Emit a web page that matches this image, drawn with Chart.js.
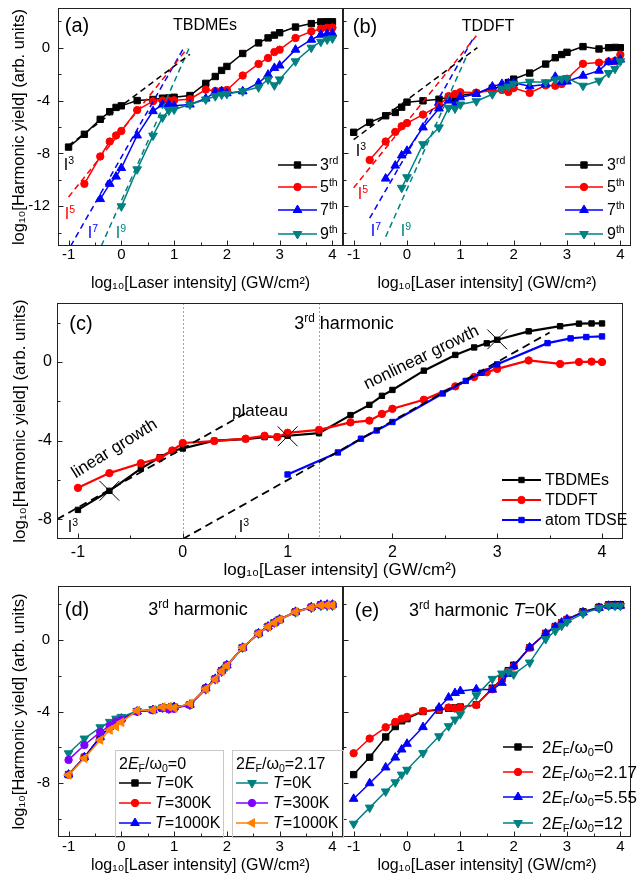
<!DOCTYPE html>
<html><head><meta charset="utf-8">
<script src="https://cdn.jsdelivr.net/npm/chart.js@4.4.1/dist/chart.umd.min.js"></script>
<style>
html,body{margin:0;padding:0;background:#fff}
body{position:relative;width:638px;height:878px;overflow:hidden;font-family:"Liberation Sans",Arial,sans-serif;color:#000}
canvas{position:absolute;left:0;top:0}
.t{position:absolute;white-space:nowrap;line-height:1;z-index:5}
.c{transform:translate(-50%,-50%)}
.l{transform:translateY(-50%)}
.sp{font-size:66%;position:relative;top:-0.6em}
.sb{font-size:66%;position:relative;top:0.3em}
.box{position:absolute;border:1px solid #c8c8c8;z-index:4;box-sizing:border-box}
</style></head><body>
<canvas id="ca" width="638" height="878"></canvas>
<canvas id="cb" width="638" height="878"></canvas>
<canvas id="cc" width="638" height="878"></canvas>
<canvas id="cd" width="638" height="878"></canvas>
<canvas id="ce" width="638" height="878"></canvas>

<!-- panel (a) -->
<div class="t c" style="left:77px;top:25px;font-size:20px">(a)</div>
<div class="t c" style="left:205px;top:25px;font-size:16px">TBDMEs</div>
<div class="t c" style="left:69px;top:165px;font-size:16px">I<span class="sp">3</span></div>
<div class="t c" style="left:70px;top:214px;font-size:16px;color:#ff0000">I<span class="sp">5</span></div>
<div class="t c" style="left:93px;top:233px;font-size:16px;color:#0000ff">I<span class="sp">7</span></div>
<div class="t c" style="left:121px;top:233px;font-size:16px;color:#008080">I<span class="sp">9</span></div>
<div class="t l" style="left:320px;top:165px;font-size:16px">3<span class="sp">rd</span></div>
<div class="t l" style="left:320px;top:187px;font-size:16px">5<span class="sp">th</span></div>
<div class="t l" style="left:320px;top:210px;font-size:16px">7<span class="sp">th</span></div>
<div class="t l" style="left:320px;top:234px;font-size:16px">9<span class="sp">th</span></div>

<!-- panel (b) -->
<div class="t c" style="left:365px;top:26px;font-size:20px">(b)</div>
<div class="t c" style="left:488px;top:26px;font-size:16px">TDDFT</div>
<div class="t c" style="left:361px;top:151px;font-size:16px">I<span class="sp">3</span></div>
<div class="t c" style="left:363px;top:194px;font-size:16px;color:#ff0000">I<span class="sp">5</span></div>
<div class="t c" style="left:376px;top:231px;font-size:16px;color:#0000ff">I<span class="sp">7</span></div>
<div class="t c" style="left:406px;top:231px;font-size:16px;color:#008080">I<span class="sp">9</span></div>
<div class="t l" style="left:607px;top:165px;font-size:16px">3<span class="sp">rd</span></div>
<div class="t l" style="left:607px;top:187px;font-size:16px">5<span class="sp">th</span></div>
<div class="t l" style="left:607px;top:210px;font-size:16px">7<span class="sp">th</span></div>
<div class="t l" style="left:607px;top:234px;font-size:16px">9<span class="sp">th</span></div>

<!-- panel (c) -->
<div class="t c" style="left:81px;top:323px;font-size:20px">(c)</div>
<div class="t c" style="left:344px;top:323px;font-size:18px">3<span class="sp">rd</span> harmonic</div>
<div class="t c" style="left:114px;top:448px;font-size:17px;transform:translate(-50%,-50%) rotate(-32deg)">linear growth</div>
<div class="t c" style="left:260px;top:410px;font-size:17px">plateau</div>
<div class="t c" style="left:421px;top:357px;font-size:17px;transform:translate(-50%,-50%) rotate(-26deg)">nonlinear growth</div>
<div class="t c" style="left:73px;top:527px;font-size:16px">I<span class="sp">3</span></div>
<div class="t c" style="left:244px;top:527px;font-size:16px">I<span class="sp">3</span></div>
<div class="t l" style="left:545px;top:480px;font-size:16px">TBDMEs</div>
<div class="t l" style="left:545px;top:500px;font-size:16px">TDDFT</div>
<div class="t l" style="left:545px;top:520px;font-size:16px">atom TDSE</div>

<!-- panel (d) -->
<div class="t c" style="left:77px;top:609px;font-size:20px">(d)</div>
<div class="t c" style="left:198px;top:609px;font-size:18px">3<span class="sp">rd</span> harmonic</div>
<div class="box" style="left:115px;top:750px;width:109px;height:88px"></div>
<div class="box" style="left:232px;top:750px;width:112px;height:88px"></div>
<div class="t l" style="left:119px;top:764px;font-size:16px">2<i>E</i><span class="sb">F</span>/ω<span class="sb">0</span>=0</div>
<div class="t l" style="left:155px;top:783px;font-size:16px"><i>T</i>=0K</div>
<div class="t l" style="left:155px;top:803px;font-size:16px"><i>T</i>=300K</div>
<div class="t l" style="left:155px;top:823px;font-size:16px"><i>T</i>=1000K</div>
<div class="t l" style="left:236px;top:764px;font-size:16px">2<i>E</i><span class="sb">F</span>/ω<span class="sb">0</span>=2.17</div>
<div class="t l" style="left:273px;top:783px;font-size:16px"><i>T</i>=0K</div>
<div class="t l" style="left:273px;top:803px;font-size:16px"><i>T</i>=300K</div>
<div class="t l" style="left:273px;top:823px;font-size:16px"><i>T</i>=1000K</div>

<!-- panel (e) -->
<div class="t c" style="left:367px;top:610px;font-size:20px">(e)</div>
<div class="t c" style="left:483px;top:610px;font-size:18px">3<span class="sp">rd</span> harmonic <i>T</i>=0K</div>
<div class="t l" style="left:542px;top:747px;font-size:17px">2<i>E</i><span class="sb">F</span>/ω<span class="sb">0</span>=0</div>
<div class="t l" style="left:542px;top:772px;font-size:17px">2<i>E</i><span class="sb">F</span>/ω<span class="sb">0</span>=2.17</div>
<div class="t l" style="left:542px;top:797px;font-size:17px">2<i>E</i><span class="sb">F</span>/ω<span class="sb">0</span>=5.55</div>
<div class="t l" style="left:542px;top:823px;font-size:17px">2<i>E</i><span class="sb">F</span>/ω<span class="sb">0</span>=12</div>

<script>
// ---------------- data ----------------
const logI = [-1,-0.7,-0.4,-0.22,-0.1,0,0.3,0.6,0.78,0.9,1,1.3,1.6,1.78,1.9,2,2.3,2.6,2.78,2.9,3,3.3,3.6,3.78,3.9,4];

// (a) TBDMEs
const tbdme3 = [-7.52,-6.55,-5.42,-4.84,-4.52,-4.4,-4.0,-3.92,-3.82,-3.8,-3.75,-3.62,-2.7,-2.18,-1.72,-1.42,-0.44,0.36,0.74,0.95,1.13,1.56,1.82,1.95,1.96,1.96];
const tbdme5 = [null,-10.3,-8.23,-7.1,-6.64,-6.3,-4.72,-4.05,-4.0,-4.0,-3.98,-3.9,-3.17,-3.28,-3.25,-3.2,-2.11,-1.23,-0.78,-0.33,-0.15,0.73,1.23,1.43,1.5,1.52];
const tbdme7 = [null,null,-11.45,-10.3,-9.75,-9.1,-6.64,-4.8,-4.3,-4.3,-4.4,-4.3,-3.85,-3.35,-3.3,-3.45,-3.3,-2.67,-2.04,-1.53,-1.35,-0.15,0.6,0.98,1.05,1.08];
const tbdme9 = [null,null,null,null,null,-12.0,-9.2,-6.65,-5.28,-4.75,-4.68,-4.3,-3.92,-3.67,-3.55,-3.5,-3.3,-3.0,-2.4,-2.85,-2.4,-1.03,0.0,0.45,0.62,0.7];

// (b) TDDFT
const tddft3 = [-6.4,-5.65,-5.15,-4.9,-4.5,-4.12,-4.02,-3.9,-3.75,-3.82,-3.6,-3.45,-3.07,-2.98,-2.64,-2.38,-1.92,-1.24,-0.76,-0.52,-0.35,0.08,-0.1,0.0,0.02,0.0];
const tddft5 = [null,-8.5,-7.1,-6.37,-5.94,-5.7,-5.06,-4.38,-3.67,-3.5,-3.37,-3.4,-3.25,-3.2,-3.35,-3.05,-3.42,-2.85,-2.88,-2.75,-2.35,-1.22,-1.13,-1.05,-1.0,-0.54];
const tddft7 = [null,null,-9.9,-8.92,-8.15,-7.8,-6.03,-4.6,-4.0,-4.3,-3.75,-3.5,-2.94,-2.74,-2.7,-2.66,-2.92,-2.78,-2.2,-2.6,-2.56,-2.12,-1.74,-1.08,-1.05,-0.9];
const tddft9 = [null,null,null,null,-10.6,-9.8,-7.3,-6.03,-4.55,-4.6,-4.3,-4.05,-3.52,-3.1,-2.95,-2.73,-2.58,-2.62,-2.42,-2.35,-2.3,-2.88,-2.5,-1.92,-1.6,-1.03];

// power-law guide lines (endpoints)
const guideA_I3 = [[-1,-7.4],[1.3,-0.5]];
const guideA_I5 = [[-1,-11.3],[1.25,-0.05]];
const guideA_I7 = [[-0.96,-15],[1.2,0.1]];
const guideA_I9 = [[-0.38,-15],[1.28,-0.08]];
const guideB_I3 = [[-1,-6.95],[1.32,0.01]];
const guideB_I5 = [[-1,-10.6],[1.3,0.9]];
const guideB_I7 = [[-0.7,-12.9],[1.26,0.82]];
const guideB_I9 = [[-0.4,-14.3],[1.12,-0.62]];

// (c) atom TDSE and markers
const atomLogI = [1,1.48,1.7,1.85,2,2.48,2.7,2.85,3,3.48,3.7,3.85,4];
const atomTDSE = [-5.72,-4.6,-3.9,-3.48,-3.05,-1.6,-0.96,-0.55,-0.12,0.96,1.2,1.27,1.3];
const crossLogI = [-0.7,1.0,3.0];
const crossYield = [-6.55,-3.78,1.15];
const guideC_1 = [[-1.2,-8.0],[0.6,-2.6]];
const guideC_2 = [[0,-9],[3.5,1.5]];
const regionLines = [0,1.3];

// (d) temperature / Fermi energy study (3rd harmonic)
const ef0_T0K = tbdme3, ef0_T300K = tbdme3, ef0_T1000K = tbdme3;
const ef217_T0K = [-6.33,-5.51,-4.88,-4.58,-4.4,-4.3,-3.97,-3.87,-3.78,-3.83,-3.78,-3.63,-2.76,-2.2,-1.78,-1.49,-0.43,0.35,0.72,0.96,1.14,1.53,1.78,1.9,1.9,1.9];
const ef217_T300K = [-6.7,-5.87,-5.15,-4.8,-4.6,-4.47,-4.0,-3.92,-3.8,-3.88,-3.85,-3.62,-2.74,-2.2,-1.75,-1.45,-0.43,0.35,0.73,0.95,1.13,1.55,1.8,1.92,1.93,1.93];
const ef217_T1000K = [-7.54,-6.61,-5.59,-5.03,-4.84,-4.6,-3.95,-3.91,-3.75,-3.73,-3.79,-3.56,-2.74,-2.2,-1.75,-1.45,-0.43,0.35,0.73,0.95,1.13,1.55,1.8,1.92,1.93,1.93];
// (e) T=0K, Fermi energy
const ef555_T0K = [-8.87,-8.0,-7.12,-6.57,-6.12,-5.8,-4.87,-3.78,-3.22,-2.97,-2.86,-2.76,-2.78,-2.4,-1.9,-1.48,-0.43,0.35,0.72,0.96,1.14,1.53,1.78,1.9,1.9,1.9];
const ef12_T0K = [-10.26,-9.36,-8.46,-7.95,-7.52,-7.25,-6.32,-5.38,-4.82,-4.45,-4.15,-3.1,-2.18,-1.88,-1.77,-1.93,-1.27,0.04,0.5,0.78,1.0,1.46,1.76,1.9,1.9,1.9];

// ticks
const xTicks = [-1,0,1,2,3,4];
const xMinor = [-0.5,0.5,1.5,2.5,3.5];
const yTicksAB = [0,-4,-8,-12], yMinorAB = [2,-2,-6,-10,-14];
const yTicksC = [0,-4,-8], yMinorC = [2,-2,-6];
const yTicksDE = [0,-4,-8], yMinorDE = [2,-2,-6,-10];

const xTitle = 'log\u2081\u2080[Laser intensity] (GW/cm\u00B2)';
const yTitle = 'log\u2081\u2080[Harmonic yield] (arb. units)';

const BLACK='#000000', RED='#ff0000', BLUE='#0000ff', TEAL='#008080', PURPLE='#8000ff', ORANGE='#ff8000';

// ---------------- helpers ----------------
Chart.defaults.font.family = '"Liberation Sans", Arial, sans-serif';
Chart.defaults.color = '#000';

const framePlugin = {
  id: 'frame',
  beforeDatasetsDraw(chart, args, o) {
    const {ctx, chartArea: a, scales: {x}} = chart;
    (o.vlines || []).forEach(v => {
      const px = Math.round(x.getPixelForValue(v)) + 0.5;
      ctx.save(); ctx.strokeStyle = '#a0a0a0'; ctx.lineWidth = 1; ctx.setLineDash([2, 2]);
      ctx.beginPath(); ctx.moveTo(px, a.top); ctx.lineTo(px, a.bottom); ctx.stroke(); ctx.restore();
    });
  },
  afterDraw(chart, args, o) {
    const {ctx, chartArea: a, scales: {x, y}} = chart;
    ctx.save();
    ctx.setLineDash([]);
    ctx.strokeStyle = '#222'; ctx.lineWidth = 1;
    const L = Math.round(a.left) + 0.5, R = Math.round(a.right) - 0.5, T = Math.round(a.top) + 0.5, B = Math.round(a.bottom) - 0.5;
    ctx.strokeRect(L, T, R - L, B - T);
    ctx.beginPath();
    const xt = (vals, len) => vals.forEach(v => { const p = Math.round(x.getPixelForValue(v)) + 0.5; ctx.moveTo(p, B); ctx.lineTo(p, B - len); });
    const yt = (vals, len) => vals.forEach(v => { const p = Math.round(y.getPixelForValue(v)) + 0.5; ctx.moveTo(L, p); ctx.lineTo(L + len, p); });
    xt(o.xMajor || [], 5); xt(o.xMinor || [], 3); yt(o.yMajor || [], 5); yt(o.yMinor || [], 3);
    ctx.stroke();
    (o.keys || []).forEach(k => {
      const ds = chart.data.datasets[k.ds];
      ctx.setLineDash([]);
      ctx.strokeStyle = ds.borderColor; ctx.lineWidth = ds.borderWidth;
      ctx.beginPath(); ctx.moveTo(k.x1, k.y); ctx.lineTo(k.x2, k.y); ctx.stroke();
      ctx.fillStyle = ds.pointBackgroundColor; ctx.strokeStyle = ds.pointBorderColor; ctx.lineWidth = 1;
      if (Chart.helpers && Chart.helpers.drawPoint) {
        Chart.helpers.drawPoint(ctx, {pointStyle: ds.pointStyle, radius: ds.pointRadius, rotation: ds.pointRotation || 0, borderWidth: 1}, (k.x1 + k.x2) / 2, k.y);
      }
    });
    ctx.restore();
  }
};
Chart.register(framePlugin);

function ser(xs, ys, color, style, extra) {
  const data = [];
  xs.forEach((xv, i) => { if (ys[i] !== null && ys[i] !== undefined) data.push({x: xv, y: ys[i]}); });
  return Object.assign({data, showLine: true, borderColor: color, backgroundColor: color, borderWidth: 1.5,
    pointStyle: style, pointRadius: 4, pointBackgroundColor: color, pointBorderColor: color, pointBorderWidth: 1,
    pointRotation: 0, order: 5}, extra || {});
}
function guide(pts, color, extra) {
  return Object.assign({data: pts.map(p => ({x: p[0], y: p[1]})), showLine: true, borderColor: color, backgroundColor: color,
    borderWidth: 1.5, borderDash: [6, 4], pointRadius: 0, order: 0}, extra || {});
}
function xScale(o) {
  return {type: 'linear', min: -1.2, max: 4.2,
    grid: {display: false, drawTicks: false}, border: {display: false},
    ticks: {font: {size: o.tickSize}, color: '#000', padding: o.tickPad, maxRotation: 0, autoSkip: false},
    title: {display: true, text: xTitle, color: '#000', font: {size: o.titleSize}, padding: {top: 0, bottom: o.titlePad}},
    afterBuildTicks: s => { s.ticks = xTicks.map(v => ({value: v})); },
    afterFit: s => { s.height = o.h; s.paddingLeft = 0; s.paddingRight = 0; s.paddingTop = 0; s.paddingBottom = 0; }
  };
}
function yScale(o) {
  return {type: 'linear', min: o.min, max: o.max,
    grid: {display: false, drawTicks: false}, border: {display: false},
    ticks: {display: o.labels, font: {size: o.tickSize}, color: '#000', padding: o.tickPad},
    title: {display: o.labels, text: yTitle, color: '#000', font: {size: o.titleSize}, padding: {top: o.titlePad, bottom: 0}},
    afterBuildTicks: s => { s.ticks = o.ticks.map(v => ({value: v})); },
    afterFit: s => { s.width = o.w; s.paddingLeft = 0; s.paddingRight = 0; s.paddingTop = 0; s.paddingBottom = 0; }
  };
}
function make(id, datasets, pad, xs, ys, frame) {
  return new Chart(document.getElementById(id), {
    type: 'scatter',
    data: {datasets},
    options: {responsive: false, animation: false, devicePixelRatio: 1, events: [],
      layout: {padding: pad},
      plugins: {legend: {display: false}, tooltip: {enabled: false}, frame},
      scales: {x: xs, y: ys}}
  });
}

// ---------------- (a) ----------------
make('ca', [
  ser(logI, tbdme3, BLACK, 'rect', {pointRadius: 4.5, order: 4}),
  ser(logI, tbdme5, RED, 'circle', {pointRadius: 3.7, order: 3}),
  ser(logI, tbdme7, BLUE, 'triangle', {pointRadius: 5, order: 2}),
  ser(logI, tbdme9, TEAL, 'triangle', {pointRadius: 5, pointRotation: 180, order: 1}),
  guide(guideA_I3, BLACK), guide(guideA_I5, RED), guide(guideA_I7, BLUE), guide(guideA_I9, TEAL)
], {left: 0, top: 8, right: 295, bottom: 578},
  xScale({tickSize: 15, tickPad: 0, titleSize: 16, titlePad: 7, h: 54}),
  yScale({min: -15, max: 3, ticks: yTicksAB, labels: true, tickSize: 15, tickPad: 8, titleSize: 16.5, titlePad: 10, w: 58}),
  {xMajor: xTicks, xMinor: xMinor, yMajor: yTicksAB, yMinor: yMinorAB,
   keys: [{ds: 0, x1: 278, x2: 317, y: 165}, {ds: 1, x1: 278, x2: 317, y: 187}, {ds: 2, x1: 278, x2: 317, y: 210}, {ds: 3, x1: 278, x2: 317, y: 234}]});

// ---------------- (b) ----------------
make('cb', [
  ser(logI, tddft3, BLACK, 'rect', {pointRadius: 4.5, order: 4}),
  ser(logI, tddft5, RED, 'circle', {pointRadius: 3.7, order: 3}),
  ser(logI, tddft7, BLUE, 'triangle', {pointRadius: 5, order: 2}),
  ser(logI, tddft9, TEAL, 'triangle', {pointRadius: 5, pointRotation: 180, order: 1}),
  guide(guideB_I3, BLACK), guide(guideB_I5, RED), guide(guideB_I7, BLUE), guide(guideB_I9, TEAL)
], {left: 340, top: 8, right: 7, bottom: 578},
  xScale({tickSize: 15, tickPad: 0, titleSize: 16, titlePad: 7, h: 54}),
  yScale({min: -15, max: 3, ticks: yTicksAB, labels: false, w: 3}),
  {xMajor: xTicks, xMinor: xMinor, yMajor: yTicksAB, yMinor: yMinorAB,
   keys: [{ds: 0, x1: 565, x2: 603, y: 165}, {ds: 1, x1: 565, x2: 603, y: 187}, {ds: 2, x1: 565, x2: 603, y: 210}, {ds: 3, x1: 565, x2: 603, y: 234}]});

// ---------------- (c) ----------------
make('cc', [
  ser(logI, tbdme3, BLACK, 'rect', {pointRadius: 3.8, borderWidth: 2.2, order: 5}),
  ser(logI, tddft3, RED, 'circle', {pointRadius: 3.7, borderWidth: 2.2, order: 4}),
  ser(atomLogI, atomTDSE, BLUE, 'rect', {pointRadius: 3.8, borderWidth: 2.2, order: 3}),
  guide(guideC_1, BLACK, {borderWidth: 1.8, borderDash: [8, 5], order: 2}),
  guide(guideC_2, BLACK, {borderWidth: 1.8, borderDash: [8, 5], order: 2}),
  ser(crossLogI, crossYield, BLACK, 'crossRot', {showLine: false, pointRadius: 14, pointBorderWidth: 1, order: 0})
], {left: 0, top: 303, right: 9, bottom: 293},
  xScale({tickSize: 16, tickPad: 4, titleSize: 17, titlePad: 4, h: 46}),
  yScale({min: -9, max: 3, ticks: yTicksC, labels: true, tickSize: 16, tickPad: 5, titleSize: 17, titlePad: 10, w: 57}),
  {xMajor: xTicks, xMinor: xMinor, yMajor: yTicksC, yMinor: yMinorC, vlines: regionLines,
   keys: [{ds: 0, x1: 502, x2: 541, y: 480}, {ds: 1, x1: 502, x2: 541, y: 500}, {ds: 2, x1: 502, x2: 541, y: 520}]});

// ---------------- (d) ----------------
make('cd', [
  ser(logI, ef0_T0K, BLACK, 'rect', {pointRadius: 4.5, order: 6}),
  ser(logI, ef0_T300K, RED, 'circle', {pointRadius: 3.7, order: 5}),
  ser(logI, ef0_T1000K, BLUE, 'triangle', {pointRadius: 5, order: 4}),
  ser(logI, ef217_T0K, TEAL, 'triangle', {pointRadius: 5, pointRotation: 180, order: 3}),
  ser(logI, ef217_T300K, PURPLE, 'circle', {pointRadius: 3.7, order: 2}),
  ser(logI, ef217_T1000K, ORANGE, 'triangle', {pointRadius: 5, pointRotation: -90, order: 1})
], {left: 0, top: 586, right: 295, bottom: 0},
  xScale({tickSize: 15, tickPad: 1, titleSize: 16, titlePad: 3, h: 41}),
  yScale({min: -11, max: 3, ticks: yTicksDE, labels: true, tickSize: 15, tickPad: 8, titleSize: 16.5, titlePad: 10, w: 58}),
  {xMajor: xTicks, xMinor: xMinor, yMajor: yTicksDE, yMinor: yMinorDE,
   keys: [{ds: 0, x1: 119, x2: 151, y: 783}, {ds: 1, x1: 119, x2: 151, y: 803}, {ds: 2, x1: 119, x2: 151, y: 823},
          {ds: 3, x1: 236, x2: 268, y: 783}, {ds: 4, x1: 236, x2: 268, y: 803}, {ds: 5, x1: 236, x2: 268, y: 823}]});

// ---------------- (e) ----------------
make('ce', [
  ser(logI, ef0_T0K, BLACK, 'rect', {pointRadius: 4.5, order: 4}),
  ser(logI, ef217_T0K, RED, 'circle', {pointRadius: 3.7, order: 3}),
  ser(logI, ef555_T0K, BLUE, 'triangle', {pointRadius: 5, order: 2}),
  ser(logI, ef12_T0K, TEAL, 'triangle', {pointRadius: 5, pointRotation: 180, order: 1})
], {left: 340, top: 586, right: 7, bottom: 0},
  xScale({tickSize: 15, tickPad: 1, titleSize: 16, titlePad: 3, h: 41}),
  yScale({min: -11, max: 3, ticks: yTicksDE, labels: false, w: 3}),
  {xMajor: xTicks, xMinor: xMinor, yMajor: yTicksDE, yMinor: yMinorDE,
   keys: [{ds: 0, x1: 503, x2: 533, y: 747}, {ds: 1, x1: 503, x2: 533, y: 772}, {ds: 2, x1: 503, x2: 533, y: 797}, {ds: 3, x1: 503, x2: 533, y: 823}]});
</script>
</body></html>
